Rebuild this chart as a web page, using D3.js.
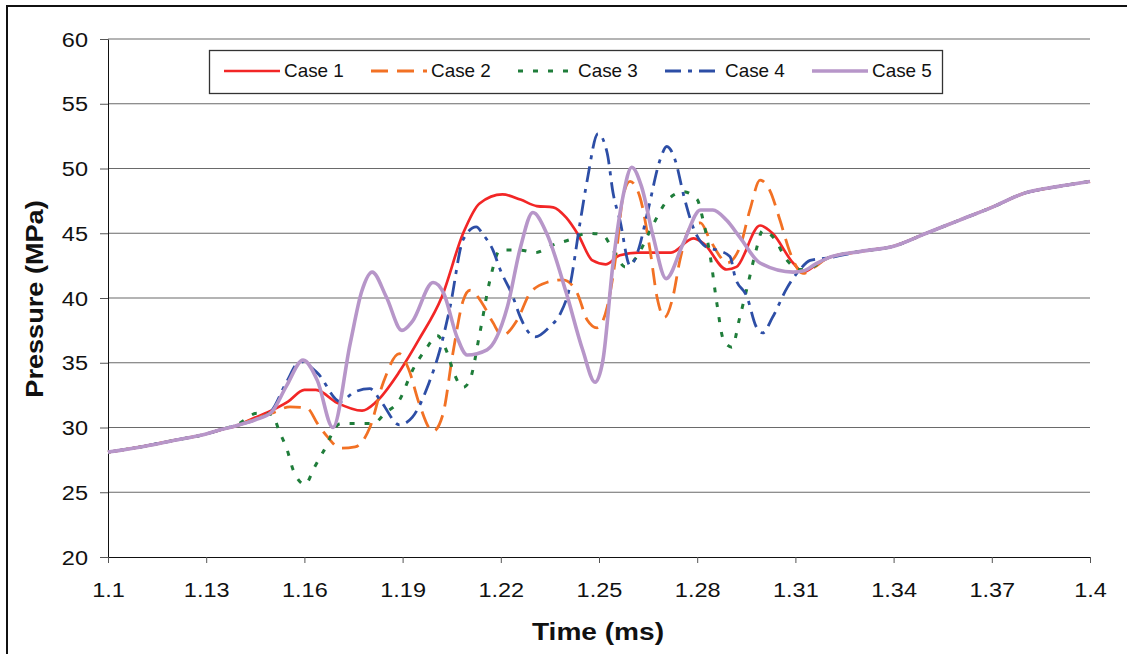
<!DOCTYPE html>
<html>
<head>
<meta charset="utf-8">
<script src="https://cdn.jsdelivr.net/npm/d3@7"></script>
<style>
  html, body { margin: 0; padding: 0; background: #fff; }
  svg { display: block; font-family: "Liberation Sans", Arial, sans-serif; }
</style>
</head>
<body>
<svg id="chart" width="1127" height="654"></svg>
<script>
// Pressure traces (MPa) against time (ms) for five cases
const case1T = [1.10, 1.11, 1.12, 1.13, 1.134, 1.14, 1.1443, 1.149, 1.155, 1.160, 1.1635, 1.170, 1.1776, 1.182, 1.189, 1.195, 1.202, 1.2085, 1.2135, 1.2205, 1.226, 1.231, 1.236, 1.240, 1.2436, 1.248, 1.252, 1.2564, 1.262, 1.272, 1.2788, 1.282, 1.289, 1.292, 1.2992, 1.303, 1.3093, 1.3125, 1.316, 1.32, 1.33, 1.34, 1.35, 1.36, 1.37, 1.38, 1.39, 1.40];
const case1P = [28.1, 28.5, 29.0, 29.5, 29.8, 30.2, 30.7, 31.2, 32.0, 32.9, 32.9, 31.9, 31.3, 32.0, 34.3, 36.8, 40.1, 45.0, 47.3, 48.0, 47.6, 47.1, 47.0, 46.2, 44.9, 42.9, 42.6, 43.3, 43.5, 43.5, 44.6, 44.2, 42.2, 42.4, 45.6, 45.0, 42.7, 42.0, 42.5, 43.1, 43.6, 44.0, 45.0, 46.0, 47.0, 48.1, 48.6, 49.0];

const case2T = [1.10, 1.11, 1.12, 1.13, 1.134, 1.14, 1.145, 1.150, 1.1556, 1.1608, 1.164, 1.167, 1.171, 1.1755, 1.180, 1.184, 1.189, 1.192, 1.195, 1.1993, 1.2023, 1.2054, 1.2085, 1.2106, 1.2143, 1.2176, 1.2204, 1.225, 1.229, 1.234, 1.239, 1.2433, 1.2464, 1.2494, 1.2525, 1.2555, 1.2573, 1.2595, 1.2625, 1.2656, 1.2677, 1.270, 1.2726, 1.2747, 1.278, 1.281, 1.2839, 1.287, 1.289, 1.293, 1.2961, 1.2992, 1.3022, 1.3053, 1.3084, 1.3123, 1.316, 1.32, 1.33, 1.34, 1.35, 1.36, 1.37, 1.38, 1.39, 1.40];
const case2P = [28.1, 28.5, 29.0, 29.5, 29.8, 30.2, 30.7, 31.1, 31.6, 31.5, 30.3, 29.3, 28.4, 28.5, 30.0, 33.4, 35.7, 34.4, 31.9, 29.7, 31.0, 35.8, 39.8, 40.6, 39.6, 38.1, 37.1, 38.3, 40.4, 41.2, 41.4, 40.4, 38.3, 37.7, 39.3, 43.9, 47.8, 49.0, 47.8, 43.7, 40.1, 38.5, 40.1, 42.9, 45.5, 45.8, 44.5, 43.2, 42.7, 43.9, 46.8, 49.1, 48.3, 46.0, 43.5, 41.9, 42.4, 43.1, 43.6, 44.0, 45.0, 46.0, 47.0, 48.1, 48.6, 49.0];

const case3T = [1.10, 1.11, 1.12, 1.13, 1.134, 1.14, 1.1455, 1.150, 1.1525, 1.1547, 1.1566, 1.1602, 1.163, 1.1657, 1.171, 1.176, 1.181, 1.1846, 1.189, 1.193, 1.1975, 1.2005, 1.2036, 1.2054, 1.2085, 1.2106, 1.2136, 1.2167, 1.2198, 1.2259, 1.2305, 1.236, 1.241, 1.2464, 1.251, 1.2543, 1.258, 1.2616, 1.2656, 1.2711, 1.2757, 1.28, 1.2818, 1.284, 1.286, 1.288, 1.2906, 1.293, 1.296, 1.298, 1.300, 1.3032, 1.3075, 1.3114, 1.316, 1.32, 1.33, 1.34, 1.35, 1.36, 1.37, 1.38, 1.39, 1.40];
const case3P = [28.1, 28.5, 29.0, 29.5, 29.8, 30.3, 31.1, 31.0, 29.6, 28.3, 26.7, 25.6, 26.9, 28.1, 30.3, 30.3, 30.3, 31.1, 32.1, 34.4, 36.2, 37.1, 35.8, 34.4, 33.1, 33.7, 37.3, 41.4, 43.7, 43.7, 43.5, 44.1, 44.5, 45.0, 44.9, 43.7, 42.4, 43.2, 45.2, 47.6, 48.2, 47.6, 46.0, 43.2, 39.6, 36.8, 36.2, 38.5, 41.6, 43.7, 45.2, 44.7, 42.9, 42.2, 42.5, 43.1, 43.6, 44.0, 45.0, 46.0, 47.0, 48.1, 48.6, 49.0];

const case4T = [1.10, 1.11, 1.12, 1.13, 1.134, 1.14, 1.145, 1.150, 1.1545, 1.1587, 1.164, 1.171, 1.175, 1.180, 1.1837, 1.189, 1.193, 1.198, 1.2014, 1.2045, 1.2085, 1.2125, 1.2146, 1.2176, 1.2198, 1.2237, 1.226, 1.2305, 1.235, 1.238, 1.241, 1.2442, 1.2464, 1.2497, 1.2525, 1.2543, 1.2564, 1.2595, 1.262, 1.265, 1.2687, 1.2707, 1.2732, 1.276, 1.2787, 1.283, 1.286, 1.290, 1.2916, 1.2952, 1.298, 1.300, 1.303, 1.3075, 1.3114, 1.3145, 1.32, 1.33, 1.34, 1.35, 1.36, 1.37, 1.38, 1.39, 1.40];
const case4P = [28.1, 28.5, 29.0, 29.5, 29.8, 30.2, 30.6, 31.3, 33.5, 35.1, 34.2, 32.0, 32.7, 33.0, 31.9, 30.2, 30.8, 33.4, 36.0, 39.3, 44.5, 45.5, 44.9, 43.7, 42.2, 40.1, 38.5, 37.0, 37.8, 38.7, 40.8, 45.8, 49.1, 52.7, 51.2, 48.1, 46.0, 42.5, 43.7, 46.8, 50.7, 51.7, 50.7, 47.8, 45.5, 43.9, 43.7, 43.2, 41.6, 40.1, 37.8, 37.3, 38.5, 40.8, 42.2, 42.9, 43.1, 43.6, 44.0, 45.0, 46.0, 47.0, 48.1, 48.6, 49.0];

const case5T = [1.10, 1.11, 1.12, 1.13, 1.134, 1.14, 1.145, 1.150, 1.1545, 1.1596, 1.164, 1.1687, 1.174, 1.1775, 1.1807, 1.185, 1.1898, 1.193, 1.1993, 1.2025, 1.2066, 1.2097, 1.2158, 1.222, 1.226, 1.2298, 1.234, 1.240, 1.245, 1.2488, 1.2512, 1.2543, 1.2573, 1.260, 1.263, 1.2666, 1.2705, 1.2757, 1.281, 1.2848, 1.289, 1.293, 1.2992, 1.3093, 1.3125, 1.316, 1.32, 1.33, 1.34, 1.35, 1.36, 1.37, 1.38, 1.39, 1.40];
const case5P = [28.1, 28.5, 29.0, 29.5, 29.8, 30.2, 30.6, 31.2, 33.2, 35.2, 33.6, 30.0, 36.5, 40.5, 42.0, 40.1, 37.5, 38.2, 41.2, 40.4, 37.0, 35.6, 36.0, 39.3, 43.9, 46.6, 45.0, 40.4, 36.0, 33.5, 35.2, 42.7, 47.8, 50.1, 48.6, 44.7, 41.5, 44.2, 46.8, 46.8, 46.0, 44.7, 42.7, 42.0, 42.1, 42.6, 43.1, 43.6, 44.0, 45.0, 46.0, 47.0, 48.1, 48.6, 49.0];

const seriesNames = ["Case 1", "Case 2", "Case 3", "Case 4", "Case 5"];
const yTicks = [20, 25, 30, 35, 40, 45, 50, 55, 60];
const xTicks = [1.10, 1.13, 1.16, 1.19, 1.22, 1.25, 1.28, 1.31, 1.34, 1.37, 1.40];
const xTickLabels = ["1.1", "1.13", "1.16", "1.19", "1.22", "1.25", "1.28", "1.31", "1.34", "1.37", "1.4"];

const series = [
  { name: seriesNames[0], t: case1T, p: case1P, color: "#f22626", dash: null, width: 2.7 },
  { name: seriesNames[1], t: case2T, p: case2P, color: "#f27124", dash: "17,9", width: 2.8 },
  { name: seriesNames[2], t: case3T, p: case3P, color: "#1f7d3a", dash: "5,10", width: 3 },
  { name: seriesNames[3], t: case4T, p: case4P, color: "#2d4ea6", dash: "16,7,4,7", width: 2.8 },
  { name: seriesNames[4], t: case5T, p: case5P, color: "#b796c9", dash: null, width: 3.6 }
];

const svg = d3.select("#chart");
const plotLeft = 108, plotRight = 1090, plotTop = 39, plotBottom = 557;

const x = d3.scaleLinear().domain([1.1, 1.4]).range([plotLeft, plotRight]);
const y = d3.scaleLinear().domain([20, 60]).range([plotBottom, plotTop]);

// outer frame (left and top edges)
svg.append("line").attr("x1", 7).attr("y1", 6).attr("x2", 7).attr("y2", 654)
  .attr("stroke", "#111").attr("stroke-width", 2);
svg.append("line").attr("x1", 6).attr("y1", 6).attr("x2", 1127).attr("y2", 6)
  .attr("stroke", "#111").attr("stroke-width", 2);

// horizontal gridlines
svg.append("g").selectAll("line")
  .data(yTicks.filter(v => v > 20))
  .join("line")
  .attr("x1", plotLeft).attr("x2", plotRight)
  .attr("y1", d => y(d)).attr("y2", d => y(d))
  .attr("stroke", "#6a6a6a").attr("stroke-width", 1.2);

// y axis
const yAxis = svg.append("g")
  .attr("transform", `translate(${plotLeft},0)`)
  .call(d3.axisLeft(y).tickValues(yTicks).tickSize(8).tickSizeOuter(0).tickFormat(d3.format("d")));
yAxis.select(".domain").attr("stroke", "#111");
yAxis.selectAll(".tick line").attr("stroke", "#555");
yAxis.selectAll(".tick text")
  .attr("x", 0).attr("dy", null).attr("y", 0)
  .attr("dominant-baseline", "central")
  .attr("transform", "translate(-20,0) scale(1.12,1)")
  .attr("font-size", 21).attr("fill", "#111")
  .attr("font-family", "'Liberation Sans', Arial, sans-serif");

// x axis
const xAxis = svg.append("g")
  .attr("transform", `translate(0,${plotBottom})`)
  .call(d3.axisBottom(x).tickValues(xTicks).tickSize(6).tickSizeOuter(0)
    .tickFormat((d, i) => xTickLabels[i]));
xAxis.select(".domain").attr("stroke", "#111");
xAxis.selectAll(".tick line").attr("stroke", "#555");
xAxis.selectAll(".tick text")
  .attr("x", 0).attr("y", 0).attr("dy", null)
  .attr("transform", "translate(0,40) scale(1.12,1)")
  .attr("font-size", 21).attr("fill", "#111")
  .attr("font-family", "'Liberation Sans', Arial, sans-serif");

// axis titles
svg.append("g").attr("transform", "translate(43,299) rotate(-90) scale(1.13,1)")
  .append("text").attr("text-anchor", "middle")
  .attr("font-size", 24).attr("font-weight", "bold").attr("fill", "#111")
  .text("Pressure (MPa)");
svg.append("g").attr("transform", "translate(598,640) scale(1.17,1)")
  .append("text").attr("text-anchor", "middle")
  .attr("font-size", 24).attr("font-weight", "bold").attr("fill", "#111")
  .text("Time (ms)");

// traces
const line = d3.line()
  .x(d => x(d[0]))
  .y(d => y(d[1]))
  .curve(d3.curveMonotoneX);

svg.append("g").selectAll("path")
  .data(series)
  .join("path")
  .attr("d", s => line(s.t.map((t, i) => [t, s.p[i]])))
  .attr("fill", "none")
  .attr("stroke", s => s.color)
  .attr("stroke-width", s => s.width)
  .attr("stroke-dasharray", s => s.dash)
  .attr("stroke-linejoin", "round");

// legend
const legend = svg.append("g");
legend.append("rect")
  .attr("x", 209.5).attr("y", 50.5).attr("width", 733).attr("height", 43)
  .attr("fill", "#fff").attr("stroke", "#333").attr("stroke-width", 1.3);
const legendTextX = [284, 431, 578, 725, 872];
const item = legend.selectAll("g.item")
  .data(series)
  .join("g").attr("class", "item");
item.append("line")
  .attr("x1", (d, i) => legendTextX[i] - 60)
  .attr("x2", (d, i) => legendTextX[i] - 4)
  .attr("y1", 71).attr("y2", 71)
  .attr("stroke", d => d.color)
  .attr("stroke-width", d => d.width)
  .attr("stroke-dasharray", d => d.dash);
item.append("g")
  .attr("transform", (d, i) => `translate(${legendTextX[i]},77) scale(1.08,1)`)
  .append("text")
  .attr("font-size", 17.5).attr("fill", "#111")
  .text(d => d.name);
</script>
</body>
</html>
